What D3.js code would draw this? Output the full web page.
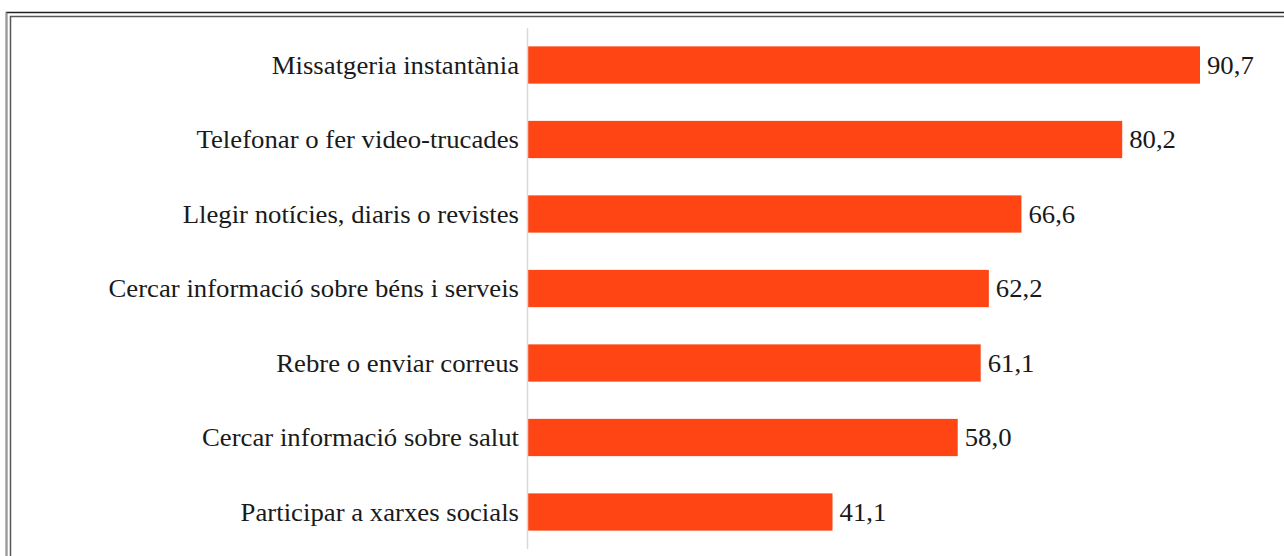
<!DOCTYPE html>
<html><head><meta charset="utf-8">
<script src="https://cdn.jsdelivr.net/npm/d3@7"></script>
<style>
html,body{margin:0;padding:0;background:#fff;}
svg{display:block;}
</style></head>
<body>
<svg id="chart" width="1284" height="556"></svg>
<script>
const categories = [
  "Missatgeria instantània",
  "Telefonar o fer video-trucades",
  "Llegir notícies, diaris o revistes",
  "Cercar informació sobre béns i serveis",
  "Rebre o enviar correus",
  "Cercar informació sobre salut",
  "Participar a xarxes socials"
];
const values = [90.7, 80.2, 66.6, 62.2, 61.1, 58.0, 41.1];

const svg = d3.select("#chart");
const W = 1284, H = 556;

// frame
svg.append("rect").attr("x", 6.5).attr("y", 12.5).attr("width", W + 10).attr("height", H + 10)
  .attr("fill", "none").attr("stroke", "#222").attr("stroke-width", 1.5);
svg.append("line").attr("x1", 6.5).attr("x2", 6.5).attr("y1", 12.5).attr("y2", H)
  .attr("stroke", "#999").attr("stroke-width", 1.5);
svg.append("rect").attr("x", 10.5).attr("y", 16.5).attr("width", W + 10).attr("height", H + 10)
  .attr("fill", "none").attr("stroke", "#555").attr("stroke-width", 1.5);

const x0 = 528;
const x = d3.scaleLinear().domain([0, 90.7]).range([x0, 1200]);
const y = d3.scaleBand().domain(categories).range([27.75, 549.25]).paddingInner(0.5).paddingOuter(0.25);

const data = categories.map((c, i) => ({c, v: values[i]}));

svg.append("g").selectAll("rect").data(data).join("rect")
  .attr("x", x(0)).attr("y", d => y(d.c))
  .attr("width", d => x(d.v) - x(0)).attr("height", y.bandwidth())
  .attr("fill", "#FF4513");

svg.append("line").attr("x1", x0 - 0.5).attr("x2", x0 - 0.5).attr("y1", 28).attr("y2", 549)
  .attr("stroke", "#d9d9d9").attr("stroke-width", 1.5);

const font = "'Liberation Serif', 'Times New Roman', serif";
const sx = 1.07;
svg.append("g").selectAll("g").data(data).join("g")
  .attr("transform", d => `translate(${x0 - 9},${y(d.c) + y.bandwidth() / 2}) scale(${sx},1)`)
  .append("text")
  .attr("dy", "0.35em").attr("text-anchor", "end")
  .attr("font-family", font).attr("font-size", 25).attr("fill", "#1a1a1a")
  .text(d => d.c);

svg.append("g").selectAll("g").data(data).join("g")
  .attr("transform", d => `translate(${x(d.v) + 7},${y(d.c) + y.bandwidth() / 2}) scale(${sx},1)`)
  .append("text")
  .attr("dy", "0.35em").attr("text-anchor", "start")
  .attr("font-family", font).attr("font-size", 25).attr("fill", "#1a1a1a")
  .text(d => d.v.toFixed(1).replace(".", ","));
</script>
</body></html>
